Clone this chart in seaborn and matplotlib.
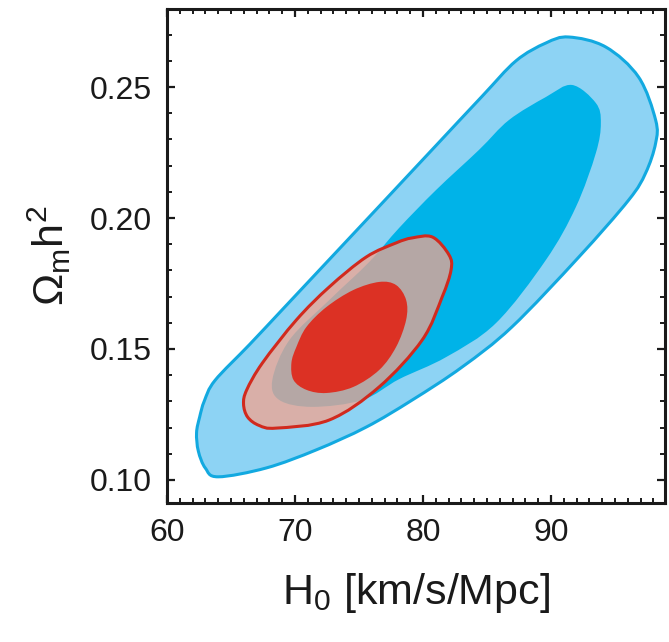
import numpy as np
import matplotlib
matplotlib.use('Agg')
import matplotlib.pyplot as plt
import seaborn as sns
from matplotlib.path import Path
from matplotlib.patches import PathPatch
from matplotlib.ticker import MultipleLocator

# Contour boundaries (H0 in km/s/Mpc, Omega_m h^2)
blue_outer_h0 = [91.39, 94.27, 96.84, 98.17, 98.17, 97.39, 96.07, 92.17, 86.94,
                 83.05, 79.15, 75.57, 71.67, 67.77, 64.0, 63.0, 62.45, 62.31, 62.55, 62.92, 63.75,
                 66.45, 69.10, 71.67, 76.58, 78.13, 81.02, 84.62, 87.26, 89.59]
blue_outer_om = [0.2691, 0.2653, 0.2538, 0.2374, 0.2286, 0.2172, 0.2069, 0.1851, 0.1584,
                 0.1431, 0.1305, 0.1202, 0.1115, 0.1046, 0.1012, 0.1045, 0.1110, 0.1180, 0.1240, 0.1302, 0.1380,
                 0.1517, 0.1655, 0.1789, 0.2045, 0.2126, 0.2277, 0.2465, 0.2600, 0.2668]

blue_inner_h0 = [91.63, 93.50, 93.89, 93.50, 91.94, 89.60, 85.70, 81.80, 78.14, 75.25,
                 71.36, 68.78, 68.23, 69.56, 72.68, 75.79, 78.13, 81.02, 84.37,
                 86.71, 89.60]
blue_inner_om = [0.2508, 0.2439, 0.2363, 0.2248, 0.2042, 0.1840, 0.1599, 0.1469, 0.1385, 0.1305,
                 0.1279, 0.1305, 0.1382, 0.1534, 0.1687, 0.1832, 0.1962, 0.2107, 0.2260,
                 0.2374, 0.2462]

red_outer_h0 = [79.15, 80.75, 82.03, 82.19, 81.49, 79.93, 76.57, 72.68,
                68.55, 67.20, 66.30, 65.98, 66.23, 67.46, 70.11, 72.68, 75.56, 77.90]
red_outer_om = [0.1924, 0.1927, 0.1859, 0.1802, 0.1698, 0.1534, 0.1355, 0.1229,
                0.1198, 0.1208, 0.1240, 0.1290, 0.1344, 0.1447, 0.1611, 0.1737, 0.1851, 0.1905]

red_inner_h0 = [77.90, 78.68, 78.68, 77.90, 76.58, 74.55, 72.45, 70.89, 69.88, 69.72,
                70.11, 70.89, 72.45, 74.55, 76.58]
red_inner_om = [0.1744, 0.1687, 0.1611, 0.1508, 0.1420, 0.1355, 0.1332, 0.1344, 0.1382, 0.1447,
                0.1508, 0.1584, 0.1660, 0.1725, 0.1756]

x_ticks = [60, 70, 80, 90]
y_ticks = [0.10, 0.15, 0.20, 0.25]

sns.set_style("ticks")
plt.rcParams['font.family'] = ['Liberation Sans', 'DejaVu Sans']
plt.rcParams['mathtext.fontset'] = 'custom'
plt.rcParams['mathtext.rm'] = 'Liberation Sans'
plt.rcParams['mathtext.it'] = 'Liberation Sans:italic'


def contour_path(xs, ys):
    # closed smooth curve through the traced boundary points (Catmull-Rom as Bezier)
    p = np.column_stack([xs, ys])
    n = len(p)
    verts = [p[0]]
    codes = [Path.MOVETO]
    for i in range(n):
        p0, p1, p2, p3 = p[i - 1], p[i], p[(i + 1) % n], p[(i + 2) % n]
        verts += [p1 + (p2 - p0) / 6, p2 - (p3 - p1) / 6, p2]
        codes += [Path.CURVE4] * 3
    verts.append(p[0])
    codes.append(Path.CLOSEPOLY)
    return Path(np.array(verts), codes)


fig = plt.figure(figsize=(6.69, 6.42), dpi=100)
ax = fig.add_axes([0.2496, 0.2165, 0.7444, 0.7695])

# blue constraints
ax.add_patch(PathPatch(contour_path(blue_outer_h0, blue_outer_om),
                       facecolor='#8dd3f4', edgecolor='#12a9e0', lw=2.2, zorder=1))
ax.add_patch(PathPatch(contour_path(blue_inner_h0, blue_inner_om),
                       facecolor='#00b3e8', edgecolor='none', zorder=3))

# red constraints
ax.add_patch(PathPatch(contour_path(red_outer_h0, red_outer_om),
                       facecolor='#f3a48f', alpha=0.75, edgecolor='none', zorder=4))
ax.add_patch(PathPatch(contour_path(red_outer_h0, red_outer_om),
                       facecolor='none', edgecolor='#d12a1e', lw=2.2, zorder=5))
ax.add_patch(PathPatch(contour_path(red_inner_h0, red_inner_om),
                       facecolor='#dc3124', edgecolor='none', zorder=6))

ax.set_xlim(60, 98.9)
ax.set_ylim(0.0912, 0.2798)
ax.set_xticks(x_ticks)
ax.set_yticks(y_ticks)
ax.set_xticklabels([str(t) for t in x_ticks])
ax.set_yticklabels([f'{t:.2f}' for t in y_ticks])
ax.xaxis.set_minor_locator(MultipleLocator(1))
ax.yaxis.set_minor_locator(MultipleLocator(0.01))

for s in ax.spines.values():
    s.set_linewidth(2.2)
    s.set_color('#1a1a1a')
ax.tick_params(which='both', direction='in', top=True, right=True, color='#1a1a1a')
ax.tick_params(which='major', length=6, width=1.6, labelsize=23, pad=11, labelcolor='#1a1a1a')
ax.tick_params(which='minor', length=3.5, width=1.4)

ax.set_xlabel(r'$\mathregular{H_0}$ [km/s/Mpc]', fontsize=31, labelpad=16, color='#1a1a1a')
ax.set_ylabel(r'$\mathregular{\Omega_m h^2}$', fontsize=31, labelpad=12, color='#1a1a1a')

fig.savefig('out.png', dpi=100)
